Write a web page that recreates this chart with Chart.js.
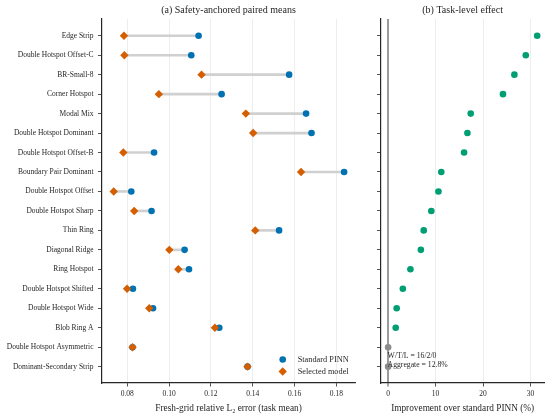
<!DOCTYPE html>
<html><head><meta charset="utf-8">
<script src="https://cdn.jsdelivr.net/npm/chart.js@4.4.1/dist/chart.umd.min.js"></script>
<style>
html,body{margin:0;padding:0;background:#fff;}
#wrap{position:relative;width:550px;height:418px;overflow:hidden;}
#left{position:absolute;left:0;top:0;}
#right{position:absolute;left:360px;top:0;}
</style></head><body>
<div id="wrap"><canvas id="left" width="360" height="418"></canvas><canvas id="right" width="190" height="418"></canvas></div>
<script>
const categories = ['Edge Strip','Double Hotspot Offset-C','BR-Small-8','Corner Hotspot','Modal Mix','Double Hotspot Dominant','Double Hotspot Offset-B','Boundary Pair Dominant','Double Hotspot Offset','Double Hotspot Sharp','Thin Ring','Diagonal Ridge','Ring Hotspot','Double Hotspot Shifted','Double Hotspot Wide','Blob Ring A','Double Hotspot Asymmetric','Dominant-Secondary Strip'];
const standardPINN = [0.1141,0.1106,0.1574,0.1251,0.1655,0.1681,0.0928,0.1837,0.0819,0.0916,0.1526,0.1074,0.1095,0.0827,0.0923,0.1240,0.0825,0.1375];
const selectedModel = [0.0784,0.0786,0.1155,0.0951,0.1367,0.1402,0.0781,0.1631,0.0735,0.0833,0.1412,0.1001,0.1044,0.0799,0.0905,0.1219,0.0825,0.1375];
const improvement = [31.4,29.0,26.6,24.2,17.4,16.7,16.0,11.2,10.6,9.1,7.5,6.9,4.7,3.1,1.8,1.6,0,0];
const xTicksLeft = [0.08,0.10,0.12,0.14,0.16,0.18];
const xTicksRight = [0,10,20,30];
const summaryLines = ['W/T/L = 16/2/0','Aggregate = 12.8%'];

const SERIF = "'Liberation Serif', 'Times New Roman', serif";
Chart.defaults.font.family = SERIF;
Chart.defaults.color = '#262626';
const INK = '#262626', GRID = '#e8e8e8';
const BLUE = '#0072B2', ORANGE = '#D55E00', GREEN = '#009E73', GRAY = '#8c8c8c';
const rowIdx = categories.map((_, i) => i);
const Y_MIN = -0.86, Y_MAX = 17.84;

function yAxis(width, showLabels) {
  return {
    type: 'linear', reverse: true, min: Y_MIN, max: Y_MAX, offset: false,
    afterBuildTicks: s => { s.ticks = rowIdx.map(v => ({value: v})); },
    afterFit: s => { s.width = width; },
    ticks: { callback: v => showLabels ? categories[v] : '', font: {size: 7.5}, padding: 4.5, color: INK, autoSkip: false },
    grid: { offset: false, drawOnChartArea: false, drawTicks: true, tickLength: 4, tickColor: INK, tickWidth: 0.8 },
    border: { display: true, color: INK, width: 1.2 }
  };
}

const insetLegend = {
  id: 'insetLegend',
  afterDatasetsDraw(chart) {
    const {ctx, chartArea} = chart;
    const items = [chart.data.datasets[1], chart.data.datasets[2]];
    ctx.save();
    items.forEach((ds, k) => {
      const x = chartArea.right - 72.3, y = chartArea.bottom - 23.5 + k * 12;
      ctx.fillStyle = ds.backgroundColor;
      ctx.beginPath();
      if (ds.pointStyle === 'rectRot') {
        const r = ds.pointRadius;
        ctx.moveTo(x - r, y); ctx.lineTo(x, y - r); ctx.lineTo(x + r, y); ctx.lineTo(x, y + r); ctx.closePath();
      } else {
        ctx.arc(x, y, ds.pointRadius, 0, Math.PI * 2);
      }
      ctx.fill();
      ctx.fillStyle = INK;
      ctx.font = '8.3px ' + SERIF;
      ctx.textBaseline = 'middle';
      ctx.textAlign = 'left';
      ctx.fillText(ds.label, x + 15, y);
    });
    ctx.restore();
  }
};

const summaryText = {
  id: 'summaryText',
  afterDatasetsDraw(chart) {
    const {ctx, chartArea} = chart;
    const x = chart.scales.x.getPixelForValue(0) - 0.5;
    ctx.save();
    ctx.fillStyle = INK;
    ctx.font = '7.7px ' + SERIF;
    ctx.textBaseline = 'middle';
    ctx.textAlign = 'left';
    summaryLines.forEach((t, k) => ctx.fillText(t, x, chartArea.bottom - 27 + k * 9));
    ctx.restore();
  }
};

new Chart(document.getElementById('left'), {
  type: 'scatter',
  data: {
    datasets: [
      { type: 'bar', label: 'gap', indexAxis: 'y', order: 3,
        data: rowIdx.map(i => ({y: i, x: [selectedModel[i], standardPINN[i]]})),
        backgroundColor: '#d0d0d0', borderWidth: 0, barThickness: 2 },
      { label: 'Standard PINN', order: 2, data: rowIdx.map(i => ({x: standardPINN[i], y: i})),
        backgroundColor: BLUE, pointBackgroundColor: BLUE, pointStyle: 'circle', pointRadius: 3.3, pointBorderWidth: 0 },
      { label: 'Selected model', order: 1, data: rowIdx.map(i => ({x: selectedModel[i], y: i})),
        backgroundColor: ORANGE, pointBackgroundColor: ORANGE, pointStyle: 'rectRot', pointRadius: 4.2, pointBorderWidth: 0 }
    ]
  },
  options: {
    responsive: false, animation: false, events: [],
    layout: { padding: {left: 0, right: 5, top: 0, bottom: 0} },
    scales: {
      x: {
        type: 'linear', min: 0.0679, max: 0.1889, offset: false,
        afterBuildTicks: s => { s.ticks = xTicksLeft.map(v => ({value: v})); },
        afterFit: s => { s.height = 35; },
        ticks: { callback: v => v.toFixed(2), font: {size: 7.5}, padding: 3, autoSkip: false, maxRotation: 0, color: INK },
        grid: { offset: false, color: GRID, lineWidth: 0.8, drawTicks: true, tickLength: 3.5, tickColor: INK, tickWidth: 0.8 },
        border: { display: true, color: INK, width: 1.2 },
        title: { display: true, text: 'Fresh-grid relative L₂ error (task mean)', font: {size: 9.3}, padding: {top: 0, bottom: 4}, color: INK }
      },
      y: yAxis(102, true)
    },
    plugins: {
      title: { display: true, text: '(a) Safety-anchored paired means', font: {size: 10, weight: 'normal'}, padding: {top: 4, bottom: 3}, color: INK, fullSize: false },
      legend: { display: false }, tooltip: { enabled: false }
    }
  },
  plugins: [insetLegend]
});

new Chart(document.getElementById('right'), {
  type: 'scatter',
  data: {
    datasets: [
      { label: 'Improvement', data: rowIdx.map(i => ({x: improvement[i], y: i})),
        pointBackgroundColor: c => (c.raw && c.raw.x === 0) ? GRAY : GREEN,
        backgroundColor: GREEN, pointStyle: 'circle', pointRadius: 3.3, pointBorderWidth: 0 }
    ]
  },
  options: {
    responsive: false, animation: false, events: [],
    layout: { padding: {left: 0, right: 5.7, top: 0, bottom: 0} },
    scales: {
      x: {
        type: 'linear', min: -1.5, max: 32.9,
        afterBuildTicks: s => { s.ticks = xTicksRight.map(v => ({value: v})); },
        afterFit: s => { s.height = 35; },
        ticks: { callback: v => String(v), font: {size: 7.5}, padding: 3, autoSkip: false, maxRotation: 0, color: INK },
        grid: { color: c => c.tick && c.tick.value === 0 ? '#9a9a9a' : GRID,
                lineWidth: c => c.tick && c.tick.value === 0 ? 2 : 0.8,
                drawTicks: true, tickLength: 3.5, tickColor: INK, tickWidth: 0.8 },
        border: { display: true, color: INK, width: 1.2 },
        title: { display: true, text: 'Improvement over standard PINN (%)', font: {size: 9.3}, padding: {top: 0, bottom: 4}, color: INK }
      },
      y: yAxis(21, false)
    },
    plugins: {
      title: { display: true, text: '(b) Task-level effect', font: {size: 10, weight: 'normal'}, padding: {top: 4, bottom: 3}, color: INK, fullSize: false },
      legend: { display: false }, tooltip: { enabled: false }
    }
  },
  plugins: [summaryText]
});
</script>
</body></html>
